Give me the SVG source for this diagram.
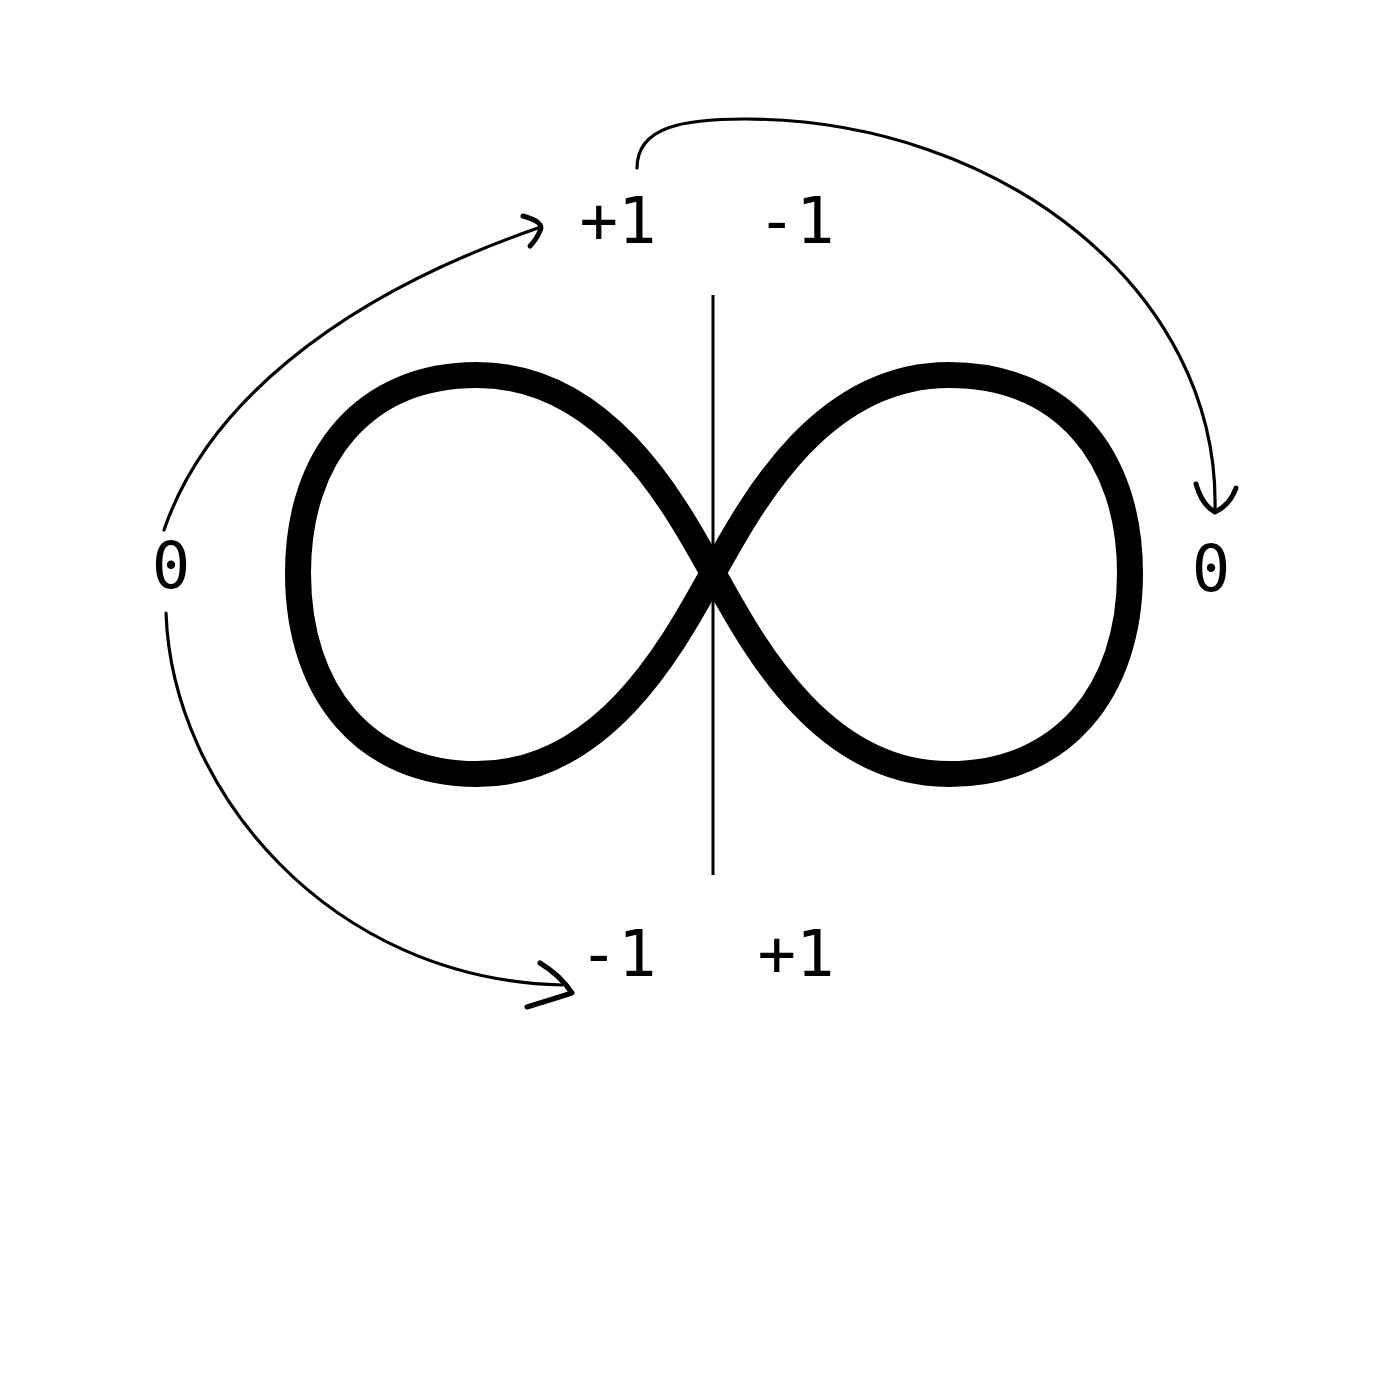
<svg xmlns="http://www.w3.org/2000/svg" width="1400" height="1400" viewBox="0 0 1400 1400">
<style>
.lbl{font-family:"DejaVu Sans Mono","Liberation Mono",monospace;font-size:64px;fill:#000;text-anchor:middle;}
.arc{fill:none;stroke:#000;stroke-width:3.2;stroke-linecap:round;}
.head{fill:none;stroke:#000;stroke-width:5;stroke-linecap:round;stroke-linejoin:round;}
</style>
<rect width="1400" height="1400" fill="#fff"/>
<g id="infinity">
<path d="M713,573 C751,505 820,375 949,375 C1062,375 1130,455 1130,573 C1130,692 1062,774 949,774 C820,774 751,641 713,573 C675,505 606,375 477,375 C365,375 298,455 298,573 C298,692 365,774 477,774 C606,774 675,641 713,573 Z" fill="none" stroke="#000" stroke-width="26" stroke-linejoin="round"/>
</g>
<g id="axis">
<line x1="713" y1="295" x2="713" y2="875" stroke="#000" stroke-width="3"/>
</g>
<g id="labels">
<g id="top-plus1"><text class="lbl" x="618" y="243">+1</text></g>
<g id="top-minus1"><text class="lbl" x="796" y="243">-1</text></g>
<g id="bottom-minus1"><text class="lbl" x="618" y="976">-1</text></g>
<g id="bottom-plus1"><text class="lbl" x="796" y="976">+1</text></g>
<g id="left-zero"><text class="lbl" x="171" y="588">0</text></g>
<g id="right-zero"><text class="lbl" x="1211" y="591">0</text></g>
</g>
<g id="connectors">
<path class="arc" d="M164,530 C205,410 330,300 538,228"/>
<path class="head" d="M523,216 Q545,222 540,231 Q536,240 530,246"/>
<path class="arc" d="M637,168 C637,126 685,119 745,119 C1000,119 1220,290 1215,510"/>
<path class="head" d="M1196,484 Q1202,505 1215,512 Q1230,505 1236,488"/>
<path class="arc" d="M166,613 C172,790 330,980 562,985"/>
<path class="head" d="M540,963 Q560,975 572,993 Q550,1000 527,1007"/>
</g>
</svg>
